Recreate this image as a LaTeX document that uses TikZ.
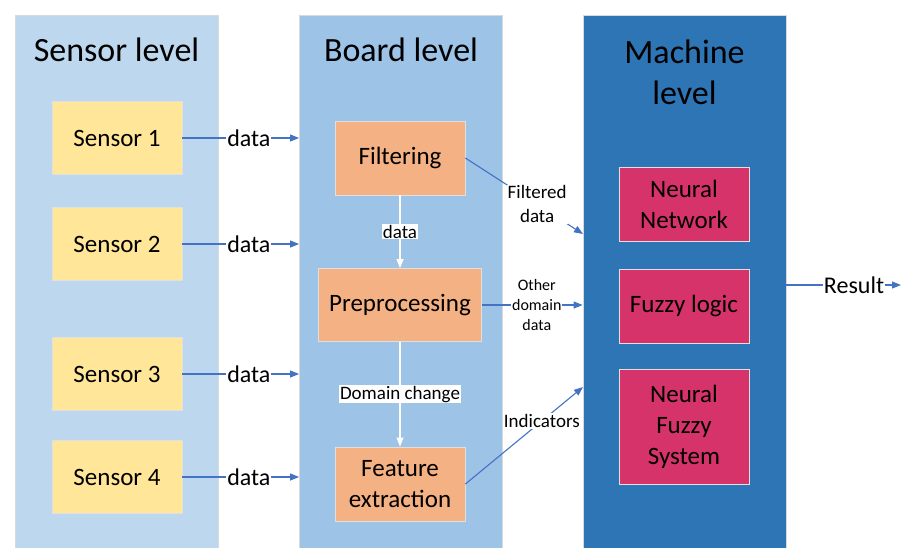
\documentclass[tikz,border=0pt]{standalone}
\usepackage{fontspec}
\setmainfont{Carlito}
\usetikzlibrary{positioning,arrows.meta}

\definecolor{sensorbg}{HTML}{BDD7EE}
\definecolor{boardbg}{HTML}{9DC3E6}
\definecolor{machinebg}{HTML}{2E75B6}
\definecolor{sensorfill}{HTML}{FFE699}
\definecolor{boardfill}{HTML}{F4B183}
\definecolor{machinefill}{HTML}{D6336A}
\definecolor{linkblue}{HTML}{4472C4}

\begin{document}
\begin{tikzpicture}[x=1pt,y=-1pt,
  level/.style={draw=black!15, line width=0.8pt, minimum width=203pt,
    minimum height=545pt, anchor=north, inner sep=0pt},
  title/.style={font=\fontsize{34}{41}\selectfont, align=center},
  box/.style={draw=black!12, line width=0.8pt, minimum width=130pt,
    minimum height=74pt, inner sep=0pt, align=center,
    font=\fontsize{25}{31}\selectfont},
  link/.style={draw=linkblue, line width=1.1pt,
    -{Triangle[length=9pt,width=7pt]}},
  inlink/.style={draw=white, line width=1.1pt,
    -{Triangle[length=9pt,width=7pt]}},
  datalabel/.style={fill=white, inner sep=1pt, font=\fontsize{24}{28}\selectfont},
  sidelabel/.style={fill=white, inner sep=1pt, align=center,
    font=\fontsize{19}{24}\selectfont},
  smalllabel/.style={fill=white, inner sep=1pt, align=center,
    font=\fontsize{16}{20}\selectfont}]

  \useasboundingbox (0,0) rectangle (902,547);

  % the three levels
  \node[level, fill=sensorbg] (sensorcol) at (116.5,15) {};
  \node[level, fill=boardbg] (boardcol) at (401,15) {};
  \node[level, fill=machinebg] (machinecol) at (684.5,15) {};
  \node[title] (sensortitle) at (116.5,50) {Sensor level};
  \node[title] (boardtitle) at (401,50) {Board level};
  \node[title] (machinetitle) at (684.5,72) {Machine\\level};

  % sensors
  \foreach \i/\y in {1/138,2/244,3/374,4/477}
    \node[box, fill=sensorfill, minimum height=73pt] (s\i) at (117,\y) {Sensor \i};
  \foreach \i in {1,...,4}
    \draw[link] (s\i.east) -- node[datalabel, pos=0.57] {data} (s\i -| boardcol.west);

  % board
  \node[box, fill=boardfill] (filt) at (400,158) {Filtering};
  \node[box, fill=boardfill, minimum width=163pt, minimum height=73pt] (prep) at (400,305) {Preprocessing};
  \node[box, fill=boardfill] (feat) at (400,484) {Feature\\extraction};
  \draw[inlink] (filt) -- node[sidelabel] {data} (prep);
  \draw[inlink] (prep) -- node[sidelabel] {Domain change} (feat);

  % machine
  \node[box, fill=machinefill] (nn) at (684,204) {Neural\\Network};
  \node[box, fill=machinefill] (fl) at (684,306) {Fuzzy logic};
  \node[box, fill=machinefill, minimum height=115pt] (nfs) at (684,427) {Neural\\Fuzzy\\System};

  \coordinate (filtin) at (583,234);
  \coordinate (indin) at (583,387);
  \coordinate (resout) at (901,285);
  \draw[link] (filt.east) -- node[sidelabel, pos=0.61] {Filtered\\data} (filtin);
  \draw[link] (prep.east) -- node[smalllabel, pos=0.545] {Other\\domain\\data} (prep -| machinecol.west);
  \draw[link] (feat.east) -- node[sidelabel, pos=0.65] {Indicators} (indin);
  \draw[link] (resout -| machinecol.east) -- node[datalabel, pos=0.59] {Result} (resout);
\end{tikzpicture}
\end{document}
